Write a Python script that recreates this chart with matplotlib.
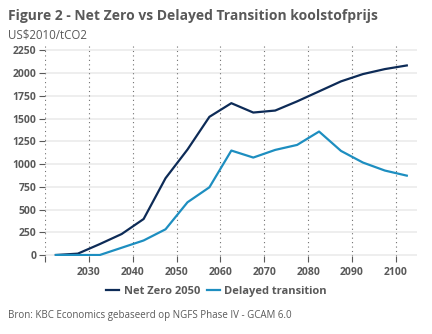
import matplotlib
matplotlib.use("Agg")
import matplotlib.pyplot as plt

# Carbon price paths (US$2010/tCO2), 5-year steps
years = [2022.5, 2027.5, 2032.5, 2037.5, 2042.5, 2047.5, 2052.5, 2057.5, 2062.5,
         2067.5, 2072.5, 2077.5, 2082.5, 2087.5, 2092.5, 2097.5, 2102.5]
net_zero = [0, 15, 120, 231, 396, 845, 1160, 1520, 1670,
            1567, 1589, 1690, 1800, 1910, 1990, 2045, 2085]
delayed = [0, 0, 0, 80, 160, 283, 580, 745, 1149,
           1072, 1156, 1211, 1358, 1145, 1017, 929, 873]

x_ticks = [2020, 2030, 2040, 2050, 2060, 2070, 2080, 2090, 2100]
x_labels = ["", "2030", "2040", "2050", "2060", "2070", "2080", "2090", "2100"]
y_ticks = [0, 250, 500, 750, 1000, 1250, 1500, 1750, 2000, 2250]

NAVY = "#0d2b57"
BLUE = "#1d8ec0"
GREY = "#595959"

plt.rcParams["font.family"] = ["Open Sans", "DejaVu Sans"]

fig = plt.figure(figsize=(4.32, 3.34), dpi=100)
ax = fig.add_axes([0.104, 0.2335, 0.861, 0.6375])

ax.plot(years, net_zero, color=NAVY, lw=1.6, label="Net Zero 2050", zorder=3)
ax.plot(years, delayed, color=BLUE, lw=1.6, label="Delayed transition", zorder=3)

ax.set_xlim(2020, 2104.8)
ax.set_ylim(-11, 2331)
ax.set_xticks(x_ticks)
ax.set_xticklabels(x_labels)
ax.set_yticks(y_ticks)
ax.set_yticklabels([str(v) for v in y_ticks])

for v in y_ticks:
    ax.axhline(v, color="#ebebeb", lw=1.2, zorder=1)
for v in x_ticks:
    ax.axvline(v, color="#707070", lw=0.8, ls=(0, (1, 3)), zorder=2)

for s in ax.spines.values():
    s.set_visible(False)

ax.tick_params(axis="both", colors=GREY, length=4, width=0.8, direction="out")
ax.tick_params(axis="y", pad=2)
ax.tick_params(axis="x", pad=4)
for lbl in ax.get_xticklabels() + ax.get_yticklabels():
    lbl.set_fontweight("bold")
    lbl.set_fontsize(7.5)
    lbl.set_color(GREY)

leg = ax.legend(loc="upper center", bbox_to_anchor=(0.461, -0.12), ncol=2,
                frameon=False, fontsize=8, handlelength=1.2, handletextpad=0.4,
                columnspacing=0.6, borderaxespad=0)
for t in leg.get_texts():
    t.set_fontweight("bold")
    t.set_color(GREY)

fig.text(0.018, 0.952, "Figure 2 - Net Zero vs Delayed Transition koolstofprijs",
         fontsize=10, fontweight="bold", color=GREY, va="center", ha="left")
fig.text(0.018, 0.895, "US$2010/tCO2", fontsize=8.3, color=GREY,
         va="center", ha="left")
fig.text(0.018, 0.055, "Bron: KBC Economics gebaseerd op NGFS Phase IV - GCAM 6.0",
         fontsize=7, color=GREY, va="center", ha="left")

fig.savefig("out.png", dpi=100)
